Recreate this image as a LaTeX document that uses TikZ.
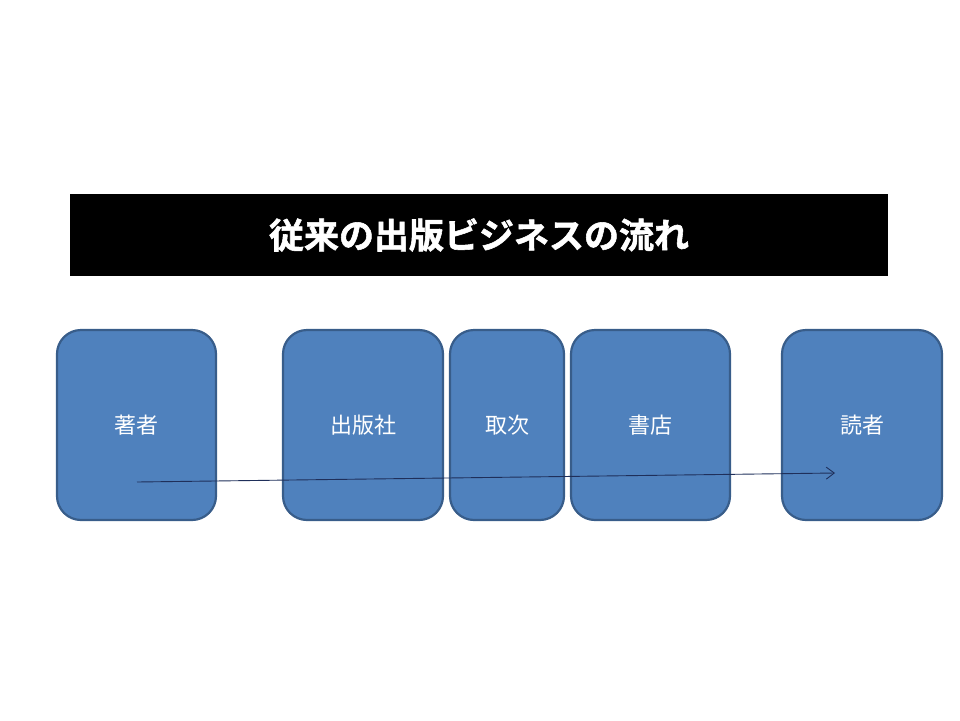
\documentclass[tikz,border=0pt]{standalone}
\usepackage{fontspec}
\newfontfamily\cjk{Noto Sans CJK JP}
\newfontfamily\cjkb[FakeBold=1.6]{Noto Sans CJK JP Bold}
\usetikzlibrary{arrows.meta}
\definecolor{boxfill}{HTML}{4F81BD}
\definecolor{boxline}{HTML}{385D8A}
\definecolor{arrowcol}{HTML}{1F2F5A}
\tikzset{
  stage/.style={draw=boxline, fill=boxfill, line width=2.2pt, rounded corners=24pt,
    inner sep=0pt, text=white, font=\cjk\fontsize{22}{26}\selectfont},
  titlebar/.style={fill=black, inner sep=0pt, text=white, font=\cjkb\fontsize{35}{40}\selectfont},
  flow/.style={draw=arrowcol, line width=0.9pt, -{Straight Barb[length=8pt,width=12pt]}}
}
\begin{document}
\begin{tikzpicture}[x=1pt,y=-1pt]
\useasboundingbox (0,0) rectangle (960,720);
\node[titlebar, minimum width=818pt, minimum height=82pt] (title) at (479,235) {\raisebox{-2pt}{従来の出版ビジネスの流れ}};
\node[stage, minimum width=159pt, minimum height=190pt] (author) at (136.5,425) {著者};
\node[stage, minimum width=160pt, minimum height=190pt] (publisher) at (363,425) {出版社};
\node[stage, minimum width=114pt, minimum height=190pt] (distrib) at (507,425) {取次};
\node[stage, minimum width=159pt, minimum height=190pt] (store) at (650.5,425) {書店};
\node[stage, minimum width=160pt, minimum height=190pt] (reader) at (862,425) {読者};
\coordinate (start) at (137,482);
\coordinate (end) at (835,473);
\draw[flow] (start) -- (end);
\end{tikzpicture}
\end{document}
